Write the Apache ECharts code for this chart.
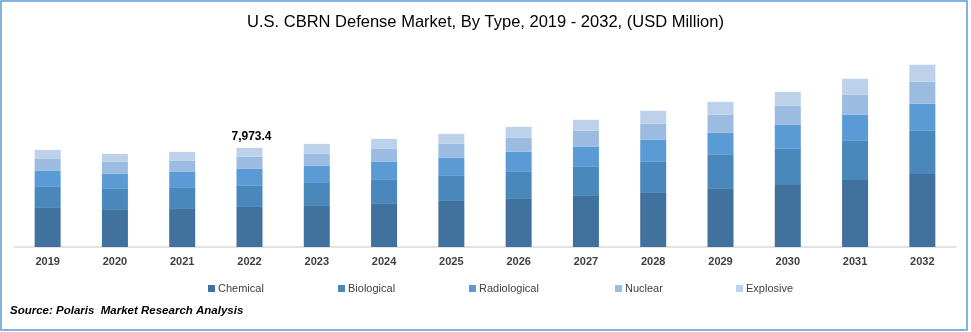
<!DOCTYPE html>
<html>
<head>
<meta charset="utf-8">
<script src="https://cdn.jsdelivr.net/npm/echarts@6/dist/echarts.min.js"></script>
<style>
html,body{margin:0;padding:0;background:#fff;}
#chart{width:971px;height:332px;}
</style>
</head>
<body>
<div id="chart"></div>
<script>
const years = ['2019','2020','2021','2022','2023','2024','2025','2026','2027','2028','2029','2030','2031','2032'];
const chemical     = [3140, 2979, 3059, 3222, 3300, 3462, 3703, 3864, 4106, 4347, 4669, 4991, 5394, 5877];
const biological   = [1690, 1690, 1690, 1692, 1852, 1932, 2013, 2174, 2335, 2496, 2737, 2898, 3140, 3462];
const radiological = [1288, 1208, 1288, 1370, 1369, 1449, 1449, 1610, 1610, 1771, 1771, 1932, 2093, 2174];
const nuclear      = [ 966,  966,  886,  965,  966, 1047, 1127, 1127, 1288, 1288, 1449, 1530, 1610, 1771];
const explosive    = [ 725,  644,  725, 724.4, 805,  805,  805,  886,  886, 1047, 1047, 1127, 1288, 1369];
const labelledYear = '2022';

const seriesNames = ['Chemical','Biological','Radiological','Nuclear','Explosive'];
const seriesData = [chemical, biological, radiological, nuclear, explosive];
const colors = ['#41729e','#4a88bb','#5b9bd5','#9bbbe0','#bdd1eb'];

const li = years.indexOf(labelledYear);
const total = seriesData.reduce((s, arr) => s + arr[li], 0);
const totalText = Number(total.toFixed(1)).toLocaleString('en-US', {minimumFractionDigits:1, maximumFractionDigits:1});

const chart = echarts.init(document.getElementById('chart'), null, {renderer:'canvas'});

const series = seriesNames.map((name, i) => ({
  name: name,
  type: 'bar',
  stack: 'total',
  barWidth: 26,
  itemStyle: {color: colors[i]},
  emphasis: {disabled: true},
  data: seriesData[i].map((v, j) => {
    if (i === seriesNames.length - 1 && j === li) {
      return {value: v, label: {show: true, position: 'top', distance: 5, offset: [2, 0],
        formatter: () => totalText,
        fontFamily: 'Liberation Sans', fontWeight: 'bold', fontSize: 12, color: '#000'}};
    }
    return v;
  })
}));

const legendLefts = [203, 333, 464, 610, 731];
const legends = seriesNames.map((name, i) => ({
  data: [name],
  left: legendLefts[i],
  top: 278,
  itemWidth: 7,
  itemHeight: 7,
  icon: 'rect',
  selectedMode: false,
  textStyle: {fontFamily: 'Liberation Sans', fontSize: 11, color: '#404040', padding: [0,0,0,-2]}
}));

chart.setOption({
  animation: false,
  backgroundColor: '#fff',
  title: {
    text: 'U.S. CBRN Defense Market, By Type, 2019 - 2032, (USD Million)',
    left: 'center',
    top: 9,
    textStyle: {fontFamily: 'Liberation Sans', fontSize: 16.5, fontWeight: 'normal', color: '#000'}
  },
  legend: legends,
  grid: {left: 14, right: 15, top: 48, bottom: 85},
  xAxis: {
    type: 'category',
    data: years,
    axisLine: {lineStyle: {color: '#d9d9d9', width: 1.5}},
    axisTick: {show: false},
    axisLabel: {fontFamily: 'Liberation Sans', fontSize: 11, fontWeight: 'bold', color: '#404040', margin: 9}
  },
  yAxis: {
    type: 'value',
    min: 0,
    max: 16000,
    show: false,
    splitLine: {show: false}
  },
  series: series,
  graphic: [
    {type: 'rect', shape: {x: 1, y: 1, width: 966, height: 329},
     style: {fill: 'none', stroke: '#5b9bd5', lineWidth: 1.5}, silent: true},
    {type: 'text', left: 10, top: 305,
     style: {text: 'Source: Polaris  Market Research Analysis', fontFamily: 'Liberation Sans',
       fontSize: 11.5, fontWeight: 'bold', fontStyle: 'italic', fill: '#000'}}
  ]
});
</script>
</body>
</html>
